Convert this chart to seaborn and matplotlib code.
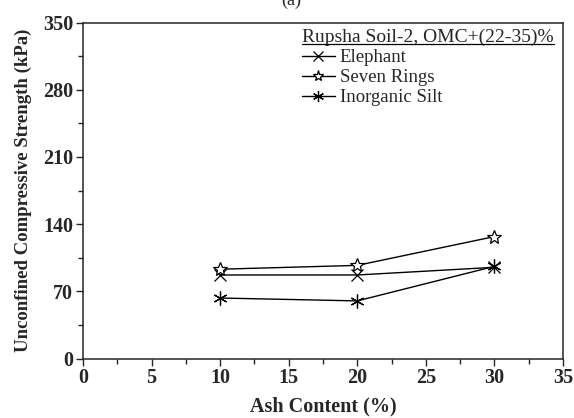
import matplotlib
matplotlib.use("Agg")
import matplotlib.pyplot as plt
import seaborn as sns
import pandas as pd
from matplotlib.lines import Line2D
from matplotlib.ticker import MultipleLocator

ash = [10, 20, 30]
elephant = [87, 87, 95]
seven_rings = [93, 97, 127]
inorganic_silt = [63, 60, 96]
series_names = ["Elephant", "Seven Rings", "Inorganic Silt"]
legend_title = "Rupsha Soil-2, OMC+(22-35)%"
x_ticks = [0, 5, 10, 15, 20, 25, 30, 35]
y_ticks = [0, 70, 140, 210, 280, 350]

rows = []
for name, vals in zip(series_names, [elephant, seven_rings, inorganic_silt]):
    for a, v in zip(ash, vals):
        rows.append({"Ash": a, "UCS": v, "Series": name})
df = pd.DataFrame(rows)

sns.set_style("ticks")
plt.rcParams["font.family"] = ["Liberation Serif", "DejaVu Serif"]

fig = plt.figure(figsize=(5.74, 4.18), dpi=100)
L, R, T, B = 83, 563, 22.5, 358.5
ax = fig.add_axes([L/574, (418-B)/418, (R-L)/574, (B-T)/418])

markers = {"Elephant": "x", "Seven Rings": "*", "Inorganic Silt": (6, 2, 0)}
sizes = {"Elephant": 9, "Seven Rings": 10, "Inorganic Silt": 10}
for name in series_names:
    sub = df[df["Series"] == name]
    sns.lineplot(data=sub, x="Ash", y="UCS", ax=ax, color="black", lw=1.0,
                 marker=markers[name], markersize=sizes[name],
                 markerfacecolor="white", markeredgecolor="black",
                 markeredgewidth=0.9, label=name, legend=False)

ax.set_xlim(0, 35)
ax.set_ylim(0, 350)
ax.set_xticks(x_ticks)
ax.set_yticks(y_ticks)
ax.xaxis.set_minor_locator(MultipleLocator(2.5))
ax.yaxis.set_minor_locator(MultipleLocator(35))
ax.tick_params(which="major", direction="out", length=5, width=1, labelsize=14.5, pad=2)
ax.tick_params(which="minor", direction="out", length=3.5, width=1)
for lab in ax.get_xticklabels() + ax.get_yticklabels():
    lab.set_fontweight("bold")
for sp in ax.spines.values():
    sp.set_linewidth(1.1)
    sp.set_visible(True)

ax.set_xlabel("Ash Content (%)", fontsize=14.5, fontweight="bold", labelpad=6)
ax.set_ylabel("Unconfined Compressive Strength (kPa)", fontsize=13.5, fontweight="bold", labelpad=8)

handles, labels = ax.get_legend_handles_labels()
leg = ax.legend(handles, labels, title=legend_title, loc="upper left",
                bbox_to_anchor=((302 - L) / (R - L), (B - 29) / (B - T)),
                frameon=False, fontsize=13.5, title_fontsize=14,
                handlelength=1.75, handletextpad=0.25, markerscale=0.8,
                labelspacing=0.15, borderaxespad=0, borderpad=0)
leg._legend_box.align = "left"

fig.text(0.507, 1 - 5/418, "(a)", ha="center", va="baseline", fontsize=13)

fig.canvas.draw()
bb = leg.get_title().get_window_extent(fig.canvas.get_renderer())
inv = fig.transFigure.inverted()
(x0, y0), (x1, y1) = inv.transform([(bb.x0, bb.y0), (bb.x1, bb.y0)])
fig.add_artist(Line2D([x0, x1], [y0 + 0.006, y1 + 0.006], color="black", lw=0.9,
                      transform=fig.transFigure))

fig.savefig("out.png", dpi=100)
